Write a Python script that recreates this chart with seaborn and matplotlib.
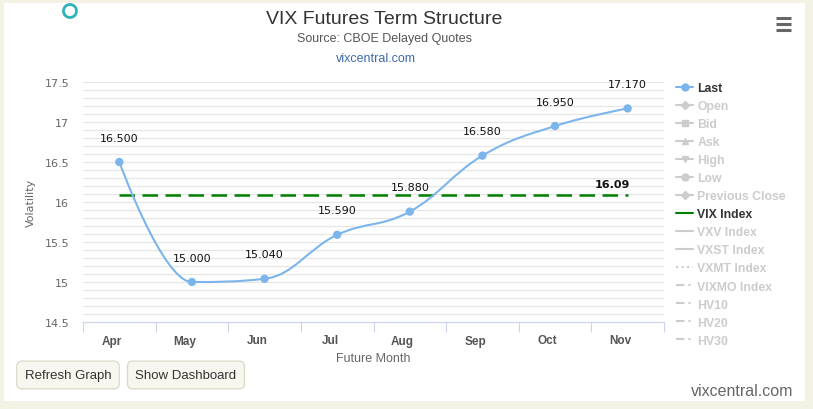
import numpy as np
import pandas as pd
import matplotlib
matplotlib.use("Agg")
import matplotlib.pyplot as plt
import seaborn as sns
from matplotlib.path import Path
from matplotlib.patches import PathPatch, Rectangle, Ellipse
from matplotlib.lines import Line2D

# ---------------- data ----------------
months = ["Apr", "May", "Jun", "Jul", "Aug", "Sep", "Oct", "Nov"]
last_values = [16.500, 15.000, 15.040, 15.590, 15.880, 16.580, 16.950, 17.170]
vix_index = 16.09
y_ticks = [14.5, 15, 15.5, 16, 16.5, 17, 17.5]
y_tick_labels = ["14.5", "15", "15.5", "16", "16.5", "17", "17.5"]
legend_names = ["Last", "Open", "Bid", "Ask", "High", "Low", "Previous Close",
                "VIX Index", "VXV Index", "VXST Index", "VXMT Index",
                "VIXMO Index", "HV10", "HV20", "HV30"]

W, H = 813, 410
sns.set_theme(style="white")
NARROW = ["Liberation Sans Narrow", "Liberation Sans", "DejaVu Sans"]
plt.rcParams["font.family"] = ["DejaVu Sans"]

fig = plt.figure(figsize=(W / 100, H / 100), dpi=100)
fig.patch.set_facecolor("#f4f2e4")

def fx(px):
    return px / W

def fy(py):
    return 1 - py / H

# white panel
fig.patches.append(Rectangle((fx(4), fy(402)), fx(801), (398) / H,
                             transform=fig.transFigure, fc="white", ec="none", zorder=-5))

ax = fig.add_axes([fx(83), fy(323), fx(664 - 83), (323 - 83) / H])
ax.set_facecolor("white")
ax.set_zorder(1)

df = pd.DataFrame({"month": months, "x": np.arange(len(months)), "last": last_values})

# grid lines every 0.1
for gv in np.arange(14.6, 17.51, 0.1):
    ax.axhline(gv, color="#e6e6e6", lw=0.9, zorder=0)

# spline (Highcharts-style cubic bezier through the data)
def spline_path(xs, ys, smoothing=1.5):
    n = len(xs)
    denom = smoothing + 1
    lc = [(xs[i], ys[i]) for i in range(n)]
    rc = [(xs[i], ys[i]) for i in range(n)]
    for i in range(1, n - 1):
        px, py = xs[i], ys[i]
        lx, ly = xs[i - 1], ys[i - 1]
        nx, ny = xs[i + 1], ys[i + 1]
        lcx = (smoothing * px + lx) / denom
        lcy = (smoothing * py + ly) / denom
        rcx = (smoothing * px + nx) / denom
        rcy = (smoothing * py + ny) / denom
        corr = (rcy - lcy) * (rcx - px) / (rcx - lcx) + py - rcy
        lcy += corr
        rcy += corr
        if lcy > ly and lcy > py:
            lcy = max(ly, py); rcy = 2 * py - lcy
        elif lcy < ly and lcy < py:
            lcy = min(ly, py); rcy = 2 * py - lcy
        if rcy > ny and rcy > py:
            rcy = max(ny, py); lcy = 2 * py - rcy
        elif rcy < ny and rcy < py:
            rcy = min(ny, py); lcy = 2 * py - rcy
        lc[i] = (lcx, lcy)
        rc[i] = (rcx, rcy)
    verts = [(xs[0], ys[0])]
    codes = [Path.MOVETO]
    for i in range(1, n):
        verts += [rc[i - 1], lc[i], (xs[i], ys[i])]
        codes += [Path.CURVE4] * 3
    return Path(verts, codes)

path = spline_path(list(df["x"].astype(float)), list(df["last"]))
ax.add_patch(PathPatch(path, fc="none", ec="#7cb5ec", lw=1.5, zorder=3))

sns.scatterplot(data=df, x="x", y="last", ax=ax, color="#7cb5ec", s=36,
                edgecolor="none", zorder=4, legend=False)

for xi, yi in zip(df["x"], df["last"]):
    ax.annotate(f"{yi:.3f}", (xi, yi), xytext=(0, 17.5), textcoords="offset points",
                ha="center", va="center", fontsize=8, color="#111111", zorder=5)

# VIX index line
ax.plot([0, len(months) - 1], [vix_index, vix_index], color="#008000", lw=1.8,
        linestyle=(0, (6.2, 3.0)), zorder=2)
ax.annotate(f"{vix_index:.2f}", (len(months) - 1, vix_index), xytext=(-11, 7.5),
            textcoords="offset points", ha="center", va="center", fontsize=8,
            fontweight="bold", color="#111111", zorder=5)

ax.set_xlim(-0.5, len(months) - 0.5)
ax.set_ylim(14.5, 17.5)
ax.set_yticks(y_ticks)
ax.set_yticklabels(y_tick_labels, fontsize=8, color="#666666")
ax.set_xticks(np.arange(len(months)) - 0.1)
ax.set_xticklabels(months, fontsize=8.5, fontweight="bold", color="#555555",
                   family=NARROW)
ax.tick_params(axis="x", which="major", length=0, pad=9)
ax.tick_params(axis="y", length=0, pad=10)
# minor ticks at band boundaries
ax.set_xticks(np.arange(-0.5, len(months) + 0.5, 1), minor=True)
ax.tick_params(axis="x", which="minor", bottom=True, length=7, width=0.8,
               color="#ccd6eb", direction="out")
for s in ["top", "right", "left"]:
    ax.spines[s].set_visible(False)
ax.spines["bottom"].set_color("#ccd6eb")
ax.spines["bottom"].set_linewidth(0.9)
ax.set_xlabel("Future Month", fontsize=9, color="#666666", family=NARROW, labelpad=4)
ax.set_ylabel("Volatility", fontsize=8, color="#666666", labelpad=6)

# titles
fig.text(fx(384), fy(20), "VIX Futures Term Structure", ha="center", va="center",
         fontsize=14, color="#333333", family=NARROW)
fig.text(fx(384), fy(39), "Source: CBOE Delayed Quotes", ha="center", va="center",
         fontsize=9, color="#555555", family=NARROW)
fig.text(fx(376), fy(59), "vixcentral.com", ha="center", va="center",
         fontsize=9, color="#3d6aa8", family=NARROW)
fig.text(fx(793), fy(392), "vixcentral.com", ha="right", va="center",
         fontsize=11.5, color="#666666", family=NARROW)

# buttons
for cx, label in [(68, "Refresh Graph"), (186, "Show Dashboard")]:
    fig.text(fx(cx), fy(376), label, ha="center", va="center", fontsize=9.5,
             color="#333333", family=NARROW,
             bbox=dict(boxstyle="round,pad=0.6,rounding_size=0.4", fc="#f8f7ef",
                       ec="#dad8c6", lw=0.9))

# top-left ring icon
fig.patches.append(Ellipse((fx(70), fy(12)), 13 / W, 13 / H, transform=fig.transFigure,
                           fc="none", ec="#2fb3b8", lw=2.0, zorder=5))
# hamburger menu
for yy in [19, 25, 31]:
    fig.lines.append(Line2D([fx(776), fx(791)], [fy(yy), fy(yy)], transform=fig.transFigure,
                            color="#666666", lw=2.2, solid_capstyle="butt"))

# legend
grey = "#cccccc"
handles = [
    Line2D([], [], color="#7cb5ec", lw=1.5, marker="o", ms=5),
    Line2D([], [], color=grey, lw=1.5, marker="D", ms=4),
    Line2D([], [], color=grey, lw=1.5, marker="s", ms=5),
    Line2D([], [], color=grey, lw=1.5, marker="^", ms=5),
    Line2D([], [], color=grey, lw=1.5, marker="v", ms=5),
    Line2D([], [], color=grey, lw=1.5, marker="o", ms=5),
    Line2D([], [], color=grey, lw=1.5, marker="D", ms=4),
    Line2D([], [], color="#008000", lw=1.5),
    Line2D([], [], color=grey, lw=1.5),
    Line2D([], [], color=grey, lw=1.5),
    Line2D([], [], color=grey, lw=1.5, ls=":"),
    Line2D([], [], color=grey, lw=1.5, ls=(0, (4, 2, 1, 2))),
    Line2D([], [], color=grey, lw=1.5, ls=(0, (4, 2, 1, 2))),
    Line2D([], [], color=grey, lw=1.5, ls=(0, (4, 2, 1, 2))),
    Line2D([], [], color=grey, lw=1.5, ls=(0, (4, 2, 1, 2))),
]
leg = fig.legend(handles, legend_names, loc="upper left",
                 bbox_to_anchor=(fx(676), fy(83)), frameon=False,
                 prop={"family": ["Liberation Sans", "DejaVu Sans"], "weight": "bold", "size": 8.8},
                 handlelength=1.4, handletextpad=0.35, labelspacing=0.495,
                 borderaxespad=0, borderpad=0)
for i, t in enumerate(leg.get_texts()):
    t.set_color("#333333" if legend_names[i] in ("Last", "VIX Index") else grey)

fig.savefig("out.png", dpi=100, facecolor=fig.get_facecolor())
